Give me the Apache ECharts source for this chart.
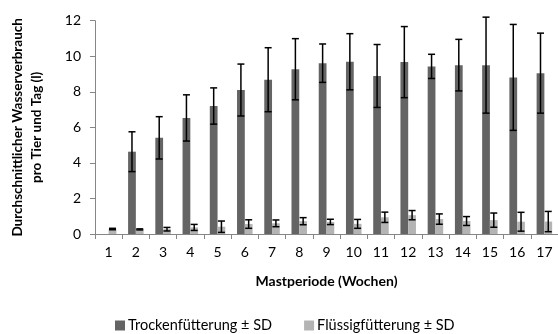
<!DOCTYPE html>
<html>
<head>
<meta charset="utf-8">
<script src="https://cdn.jsdelivr.net/npm/echarts@6/dist/echarts.min.js"></script>
<style>html,body{margin:0;padding:0;background:#fff}#c{width:558px;height:334px}</style>
</head>
<body>
<div id="c"></div>
<script>
var weeks = ['1','2','3','4','5','6','7','8','9','10','11','12','13','14','15','16','17'];
var trocken = [null, 4.63, 5.41, 6.53, 7.2, 8.1, 8.68, 9.27, 9.61, 9.69, 8.89, 9.67, 9.43, 9.5, 9.5, 8.81, 9.05];
var trockenSD = [0, 1.12, 1.19, 1.3, 1.02, 1.46, 1.8, 1.72, 1.08, 1.58, 1.77, 2.0, 0.68, 1.45, 2.7, 2.98, 2.25];
var fluessig = [0.28, 0.26, 0.27, 0.37, 0.41, 0.56, 0.6, 0.72, 0.68, 0.57, 0.94, 1.06, 0.84, 0.73, 0.78, 0.69, 0.7];
var fluessigSD = [0.04, 0.03, 0.1, 0.17, 0.32, 0.24, 0.19, 0.2, 0.15, 0.25, 0.29, 0.26, 0.29, 0.25, 0.4, 0.53, 0.57];
var yTicks = {min: 0, max: 12, interval: 2};

var FONT = 'Lato';
var BAR_FRAC = 0.57;

function errData(vals, sds) {
  return vals.map(function (v, i) {
    return v == null ? [i, null, null] : [i, v - sds[i], v + sds[i]];
  });
}
function errSeries(name, vals, sds, side) {
  return {
    type: 'custom',
    name: name + '_err',
    z: 10,
    silent: true,
    data: errData(vals, sds),
    encode: {x: 0, y: [1, 2]},
    renderItem: function (params, api) {
      var lo = api.value(1), hi = api.value(2);
      if (lo == null || isNaN(lo)) return null;
      var idx = api.value(0);
      var catW = api.size([1, 0])[0];
      var off = side * catW * BAR_FRAC / 4;
      var p1 = api.coord([idx, hi]);
      var p2 = api.coord([idx, lo]);
      var x = p1[0] + off;
      var cap = 3.5;
      var st = {stroke: '#000', lineWidth: 1.5};
      return {
        type: 'group',
        children: [
          {type: 'line', shape: {x1: x, y1: p1[1], x2: x, y2: p2[1]}, style: st},
          {type: 'line', shape: {x1: x - cap, y1: p1[1], x2: x + cap, y2: p1[1]}, style: st},
          {type: 'line', shape: {x1: x - cap, y1: p2[1], x2: x + cap, y2: p2[1]}, style: st}
        ]
      };
    }
  };
}

var chart = echarts.init(document.getElementById('c'), null, {renderer: 'canvas'});
chart.setOption({
  animation: false,
  textStyle: {fontFamily: FONT},
  grid: {left: 85, right: -7.5, top: 20.7, bottom: 100},
  legend: {
    data: ['Trockenfütterung ± SD', 'Flüssigfütterung ± SD'],
    left: 110, top: 313,
    icon: 'rect', itemWidth: 10, itemHeight: 10, itemGap: 32,
    textStyle: {fontFamily: FONT, fontSize: 14.5, color: '#000', padding: [0, 0, 0, -2]}
  },
  xAxis: {
    type: 'category',
    data: weeks,
    name: 'Mastperiode (Wochen)',
    nameLocation: 'middle',
    nameGap: 40,
    nameTextStyle: {fontFamily: FONT, fontSize: 14, fontWeight: 'bold', color: '#000'},
    axisLine: {lineStyle: {color: '#868686', width: 1}},
    axisTick: {show: true, length: 5, lineStyle: {color: '#868686'}},
    axisLabel: {fontFamily: FONT, fontSize: 14, color: '#000', margin: 11}
  },
  yAxis: {
    type: 'value',
    min: yTicks.min, max: yTicks.max, interval: yTicks.interval,
    name: 'Durchschnittlicher Wasserverbrauch\npro Tier und Tag (l)',
    nameLocation: 'middle',
    nameGap: 49,
    nameTextStyle: {fontFamily: FONT, fontSize: 13.5, fontWeight: 'bold', color: '#000', lineHeight: 19, align: 'center'},
    axisLine: {show: true, lineStyle: {color: '#868686', width: 1}},
    axisTick: {show: true, length: 5, lineStyle: {color: '#868686'}},
    splitLine: {show: false},
    axisLabel: {fontFamily: FONT, fontSize: 14, color: '#000', margin: 14}
  },
  series: [
    {name: 'Trockenfütterung ± SD', type: 'bar', data: trocken, barGap: '0%', barCategoryGap: '43%',
     itemStyle: {color: '#646464'}},
    {name: 'Flüssigfütterung ± SD', type: 'bar', data: fluessig, barGap: '0%', barCategoryGap: '43%',
     itemStyle: {color: '#b4b4b4'}},
    errSeries('t', trocken, trockenSD, -1),
    errSeries('f', fluessig, fluessigSD, 1)
  ]
});
</script>
</body>
</html>
